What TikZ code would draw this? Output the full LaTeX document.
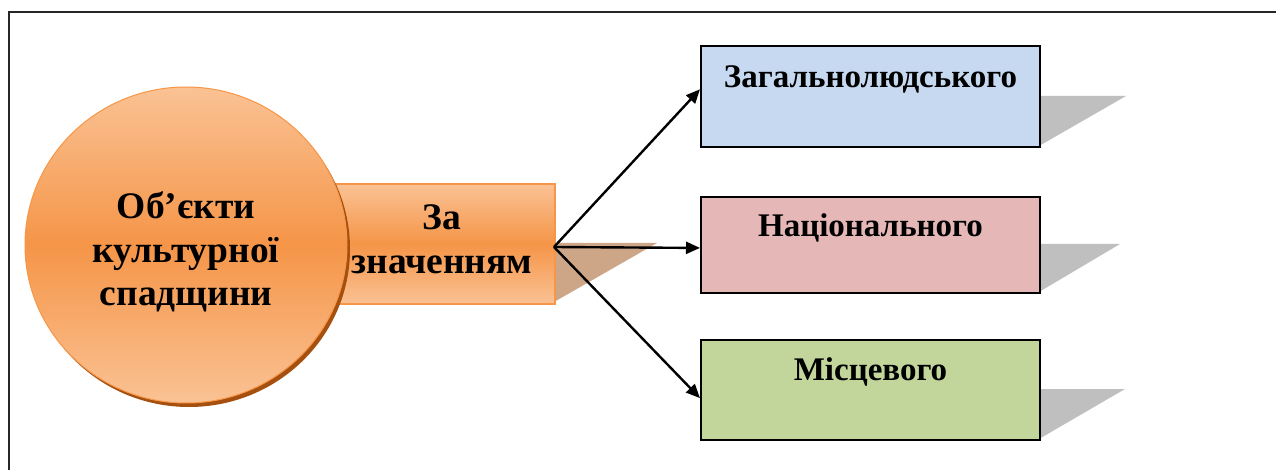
\documentclass[tikz,border=0pt]{standalone}
\usepackage{fontspec}
\setmainfont{Liberation Serif}
\usetikzlibrary{arrows.meta,calc,shapes.geometric}
\definecolor{orlight}{RGB}{250,194,148}
\definecolor{ormid}{RGB}{245,149,72}
\definecolor{orborder}{RGB}{247,150,70}
\definecolor{orshadow}{RGB}{165,80,15}
\definecolor{tanshadow}{RGB}{205,165,135}
\definecolor{greyshadow}{RGB}{191,191,191}
\definecolor{bluefill}{RGB}{198,217,240}
\definecolor{redfill}{RGB}{229,184,183}
\definecolor{greenfill}{RGB}{194,214,155}
\tikzset{
  catbox/.style={draw=black, line width=2pt, minimum width=339pt, minimum height=101pt, inner sep=0pt, anchor=north west},
  boxtext/.style={font=\fontsize{33}{40}\selectfont\bfseries, anchor=base, inner sep=0pt},
  orgrad/.style={top color=orlight, bottom color=orlight, middle color=ormid},
  conn/.style={line width=2.4pt, -{Triangle[length=14pt,width=12pt]}}
}
\begin{document}
\begin{tikzpicture}[x=1pt,y=-1pt]
\useasboundingbox (0,0) rectangle (1276,470);
\fill[white] (0,0) rectangle (1276,470);
% frame (clipped at right/bottom)
\begin{scope}
\clip (0,0) rectangle (1276,470);
\draw[line width=2pt, black!85] (9,12) rectangle (1290,490);
\end{scope}
% orange rectangle shadow
\fill[tanshadow] (554,243) -- (657,243) -- (554,302) -- cycle;
% orange rectangle
\node[draw=orborder, line width=2pt, orgrad, minimum width=219pt, minimum height=120pt, inner sep=0pt, anchor=north west] (za) at (335,183) {};
\node[font=\fontsize{37.5}{44}\selectfont\bfseries, align=center, anchor=base, inner sep=0pt] (zat) at (442,273) {За\\значенням};
% circle shadow and circle
\fill[orshadow] (189,249) ellipse [x radius=161, y radius=158];
\node[ellipse, draw=orborder, line width=1pt, orgrad, minimum width=322pt, minimum height=316pt, inner sep=0pt] (obj) at (186,245) {};
\node[font=\fontsize{37.5}{43}\selectfont\bfseries, align=center, anchor=base, inner sep=0pt] (objt) at (186,305) {Об’єкти\\культурної\\спадщини};
% shadows of boxes
\fill[greyshadow] (1030,96) -- (1126,96) -- (1039,146) -- (1030,146) -- cycle;
\fill[greyshadow] (1030,244) -- (1120,244) -- (1039,292) -- (1030,292) -- cycle;
\fill[greyshadow] (1030,389) -- (1125,389) -- (1039,439) -- (1030,439) -- cycle;
% boxes
\node[catbox, fill=bluefill] (b1) at (700,45) {};
\node[catbox, fill=redfill, minimum height=96pt] (b2) at (700,196) {};
\node[catbox, fill=greenfill, minimum height=100pt] (b3) at (700,339) {};
\node[boxtext] (t1) at ($(b1.north)+(0,43)$) {Загальнолюдського};
\node[boxtext] (t2) at ($(b2.north)+(0,41)$) {Національного};
\node[boxtext] (t3) at ($(b3.north)+(0,41)$) {Місцевого};
% connectors
\coordinate (j) at (554,247);
\draw[conn] (j) -- ($(b1.north west)!0.43!(b1.south west)$);
\draw[conn] (j) -- ($(b2.north west)!0.53!(b2.south west)$);
\draw[conn] (j) -- ($(b3.north west)!0.58!(b3.south west)$);
\end{tikzpicture}
\end{document}
